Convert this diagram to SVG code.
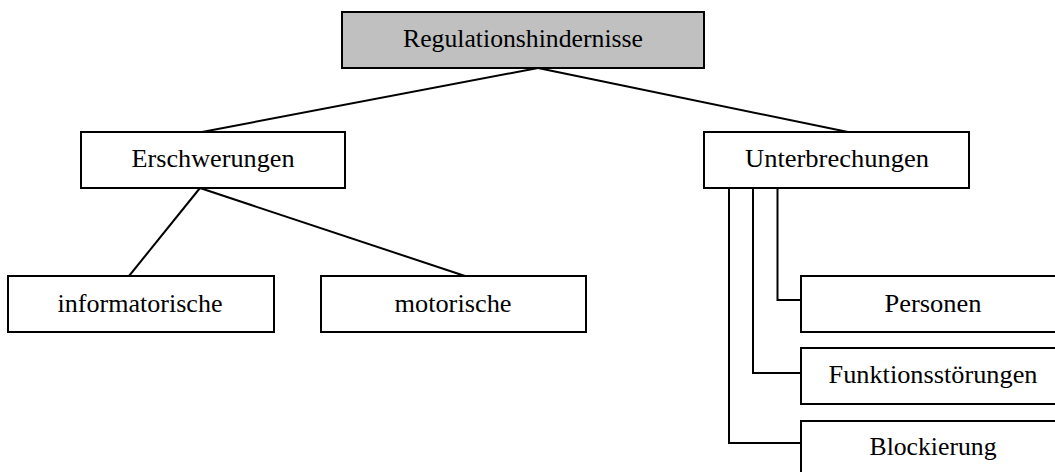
<svg xmlns="http://www.w3.org/2000/svg" width="1055" height="472" viewBox="0 0 1055 472">
  <style>
    .box { fill: #ffffff; stroke: #000000; stroke-width: 2; }
    .root { fill: #c0c0c0; }
    .lbl { font-family: "Liberation Serif", "Times New Roman", serif; font-size: 25px; fill: #000000; text-anchor: middle; }
    .wire { fill: none; stroke: #000000; stroke-width: 2; }
  </style>
  <rect width="1055" height="472" fill="#ffffff"/>

  <g id="connectors">
    <line class="wire" x1="538" y1="68" x2="202" y2="132"/>
    <line class="wire" x1="538" y1="68" x2="848" y2="132"/>
    <line class="wire" x1="200" y1="188" x2="129" y2="276"/>
    <line class="wire" x1="200" y1="188" x2="465" y2="276"/>
    <polyline class="wire" points="777.5,188 777.5,300 801,300"/>
    <polyline class="wire" points="753,188 753,373 801,373"/>
    <polyline class="wire" points="729,188 729,443 801,443"/>
  </g>

  <g id="node-regulationshindernisse">
    <rect class="box root" x="342" y="12" width="362" height="56"/>
    <text class="lbl" x="523" y="47" textLength="240" lengthAdjust="spacingAndGlyphs">Regulationshindernisse</text>
  </g>

  <g id="node-erschwerungen">
    <rect class="box" x="81" y="132" width="264" height="56"/>
    <text class="lbl" x="213" y="167" textLength="163" lengthAdjust="spacingAndGlyphs">Erschwerungen</text>
  </g>

  <g id="node-unterbrechungen">
    <rect class="box" x="704" y="132" width="265" height="56"/>
    <text class="lbl" x="837" y="167" textLength="184" lengthAdjust="spacingAndGlyphs">Unterbrechungen</text>
  </g>

  <g id="node-informatorische">
    <rect class="box" x="8" y="276" width="266" height="56"/>
    <text class="lbl" x="140" y="312" textLength="165" lengthAdjust="spacingAndGlyphs">informatorische</text>
  </g>

  <g id="node-motorische">
    <rect class="box" x="321" y="276" width="265" height="56"/>
    <text class="lbl" x="453" y="312" textLength="117" lengthAdjust="spacingAndGlyphs">motorische</text>
  </g>

  <g id="node-personen">
    <rect class="box" x="801" y="276" width="266" height="56"/>
    <text class="lbl" x="933" y="312" textLength="97" lengthAdjust="spacingAndGlyphs">Personen</text>
  </g>

  <g id="node-funktionsstoerungen">
    <rect class="box" x="801" y="348" width="266" height="56"/>
    <text class="lbl" x="933" y="383" textLength="209" lengthAdjust="spacingAndGlyphs">Funktionsstörungen</text>
  </g>

  <g id="node-blockierung">
    <rect class="box" x="801" y="421" width="266" height="56"/>
    <text class="lbl" x="933" y="455" textLength="127" lengthAdjust="spacingAndGlyphs">Blockierung</text>
  </g>
</svg>
